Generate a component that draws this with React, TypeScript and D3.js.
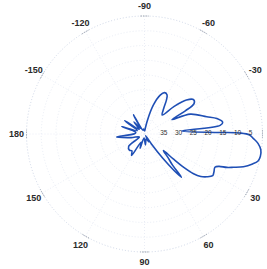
import { useEffect, useRef } from "react";
import * as d3 from "d3";

// angle (deg, clockwise from 3 o'clock) and level (dB, 0 = outer ring)
const patternAngles = [
  -179, -170, -162, -155, -146, -139, -131, -126, -120, -112, -100, -88, -82,
  -78, -73, -68, -64, -60, -57, -53, -47, -43, -39, -35, -31.5, -29.5, -27.5,
  -23.5, -15.5, -12, -8.5, -6.5, -4.6, -1.2, -0.6, 0.5, 2.3, 4.7, 7.8, 11,
  13.5, 15.5, 18.3, 20.5, 22.1, 23.5, 25.3, 28.5, 31.4, 34.5, 37, 39, 40.5, 41,
  41.2, 45, 48, 49.5, 51, 53, 55, 56, 62, 70, 85, 97, 107, 113, 121, 127, 133,
  142, 150, 165, 174,
];
const patternLevels = [
  36.6, 37, 31.9, 37.3, 31.9, 37.6, 34.6, 37.6, 32.5, 38.6, 38.3, 39, 38,
  35.3, 29.8, 25.8, 24.4, 24.7, 26.4, 29.2, 31.2, 26.4, 21.7, 19.7, 20.3, 24.1, 29.5,
  23.1, 18.1, 14.9, 13.2, 14.2, 27.4, 14.6, 7.8, 4.4, 3.1, 1.4, 0.2, 0,
  0.5, 2, 4.7, 7.8, 9.9, 12.5, 13.6, 13.2, 12.9, 14.4, 16.1, 18.6, 23.1, 27.1,
  31.5, 28.8, 25.8, 20.7, 24.1, 29.8, 35.9, 39.3, 37, 38.3, 36.3, 38.6, 34.9, 37, 31.5, 32.9, 32.5,
  33.2, 38, 35.3, 30.5,
];

const ringTicks = [35, 30, 25, 20, 15, 10, 5, 0];
const ringLabels = [35, 30, 25, 20, 15, 10, 5];
const spokeAngles = [0, 30, 60, 90, 120, 150, 180, -150, -120, -90, -60, -30];
const angleLabels = [-150, -120, -90, -60, -30, 30, 60, 90, 120, 150, 180];

const App = () => {
  const ref = useRef<SVGSVGElement | null>(null);

  useEffect(() => {
    if (!ref.current) return;
    const width = 267;
    const height = 269;
    const cx = 144.5;
    const cy = 134;
    const R = 118;

    const svg = d3.select(ref.current);
    svg.attr("width", width).attr("height", height);
    svg.selectAll("*").remove();

    const g = svg.append("g").attr("transform", `translate(${cx},${cy})`);
    const r = d3.scaleLinear().domain([40, 0]).range([0, R]);
    const rad = (a: number) => (a * Math.PI) / 180;

    // grid rings
    g.selectAll("circle.ring")
      .data(ringTicks)
      .join("circle")
      .attr("class", "ring")
      .attr("r", (d) => r(d))
      .attr("fill", "none")
      .attr("stroke", (d) => (d === 0 ? "#c2cbe0" : "#e2e7f1"))
      .attr("stroke-width", 0.8)
      .attr("stroke-dasharray", "1,2");

    // spokes
    g.selectAll("line.spoke")
      .data(spokeAngles)
      .join("line")
      .attr("class", "spoke")
      .attr("x1", 0)
      .attr("y1", 0)
      .attr("x2", (d) => R * Math.cos(rad(d)))
      .attr("y2", (d) => R * Math.sin(rad(d)))
      .attr("stroke", "#e4e9f2")
      .attr("stroke-width", 0.8)
      .attr("stroke-dasharray", "1,2");

    // darker tick marks on the outer ring
    const tickArc = d3
      .arc<number>()
      .innerRadius(R)
      .outerRadius(R)
      .startAngle((d) => rad(d + 90 - 2))
      .endAngle((d) => rad(d + 90 + 2));
    g.selectAll("path.tick")
      .data(spokeAngles)
      .join("path")
      .attr("class", "tick")
      .attr("d", tickArc)
      .attr("fill", "none")
      .attr("stroke", "#9aa1ad")
      .attr("stroke-width", 0.8)
      .attr("stroke-dasharray", "1,1.5");

    // pattern
    const pts = patternAngles.map((a, i) => [a, patternLevels[i]] as [number, number]);
    const line = d3
      .lineRadial<[number, number]>()
      .angle((d) => rad(d[0] + 90))
      .radius((d) => r(d[1]))
      .curve(d3.curveCatmullRomClosed.alpha(0.5));
    g.append("path")
      .attr("d", line(pts))
      .attr("fill", "none")
      .attr("stroke", "#1f4fb5")
      .attr("stroke-width", 1.6)
      .attr("stroke-linejoin", "round");

    // angle labels
    g.selectAll("text.ang")
      .data(angleLabels)
      .join("text")
      .attr("class", "ang")
      .attr("x", (d) => 128 * Math.cos(rad(d)))
      .attr("y", (d) => 128 * Math.sin(rad(d)))
      .attr("text-anchor", "middle")
      .attr("dominant-baseline", "central")
      .attr("font-family", "Liberation Sans, Arial, sans-serif")
      .attr("font-size", 9)
      .attr("font-weight", "bold")
      .attr("fill", "#2a2a2a")
      .text((d) => d);

    // ring labels along 0 deg
    g.selectAll("text.rl")
      .data(ringLabels)
      .join("text")
      .attr("class", "rl")
      .attr("x", (d) => r(d) + 1)
      .attr("y", -1.5)
      .attr("dominant-baseline", "central")
      .attr("font-family", "Liberation Sans, Arial, sans-serif")
      .attr("font-size", 6.5)
      .attr("fill", "#333")
      .text((d) => d);
  }, []);

  return (
    <svg
      ref={ref}
      style={{ position: "fixed", left: 0, top: 0, background: "#fff" }}
    />
  );
};

export default App;
